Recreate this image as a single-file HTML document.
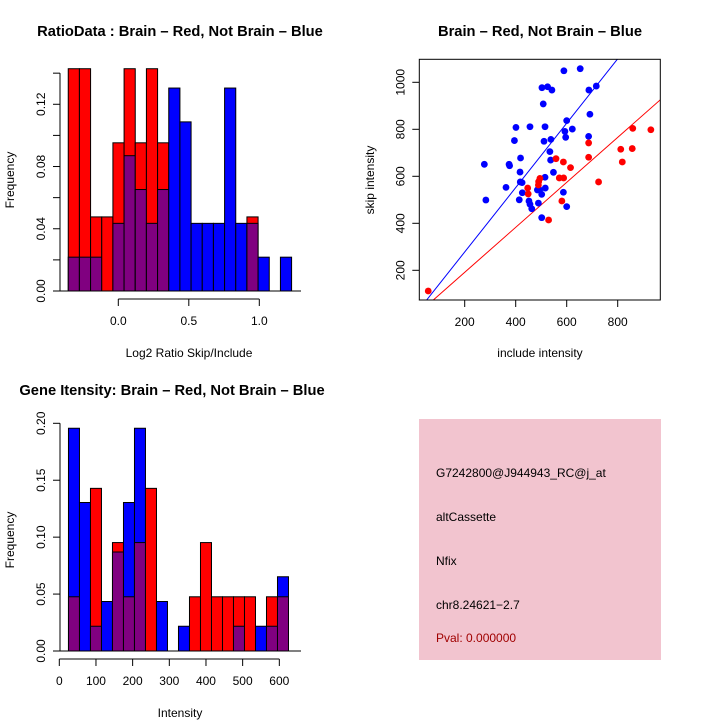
<!DOCTYPE html>
<html><head><meta charset="utf-8"><style>
body{margin:0;background:#fff}
svg text{font-family:"Liberation Sans",sans-serif;fill:#000}
</style></head><body>
<svg id="s" width="720" height="720" xmlns="http://www.w3.org/2000/svg">
<rect width="720" height="720" fill="#fff"/>
<text x="180" y="36" font-size="14.7" font-weight="bold" text-anchor="middle">RatioData : Brain – Red, Not Brain – Blue</text>
<text x="540" y="36" font-size="14.7" font-weight="bold" text-anchor="middle">Brain – Red, Not Brain – Blue</text>
<text x="172" y="395" font-size="14.7" font-weight="bold" text-anchor="middle">Gene Itensity: Brain – Red, Not Brain – Blue</text>
<text x="189" y="357" font-size="12" text-anchor="middle">Log2 Ratio Skip/Include</text>
<text x="14" y="180" font-size="12" text-anchor="middle" transform="rotate(-90 14 180)">Frequency</text>
<text x="540" y="357" font-size="12" text-anchor="middle">include intensity</text>
<text x="374" y="180" font-size="12" text-anchor="middle" transform="rotate(-90 374 180)">skip intensity</text>
<text x="180" y="717" font-size="12" text-anchor="middle">Intensity</text>
<text x="14" y="540" font-size="12" text-anchor="middle" transform="rotate(-90 14 540)">Frequency</text>
<g>
<rect x="419" y="419" width="242" height="241" fill="#f2c4cf"/>
<text x="436" y="477" font-size="12">G7242800@J944943_RC@j_at</text>
<text x="436" y="521" font-size="12">altCassette</text>
<text x="436" y="565" font-size="12">Nfix</text>
<text x="436" y="609" font-size="12">chr8.24621−2.7</text>
<text x="436" y="642" font-size="12" style="fill:#a00000">Pval: 0.000000</text>
</g>
</svg>
<script>
// Ratio histogram data (counts; red n=21, blue n=46)
const ratioStart = -0.355, ratioBinW = 0.0792;
const ratioRed = [3,3,1,1,2,3,2,3,2,0,0,0,0,0,0,0,1,0,0,0];
const ratioBlue = [1,1,1,0,2,4,3,2,3,6,5,2,2,2,6,2,2,1,0,1];
const ratioYTicks = [0,0.02,0.04,0.06,0.08,0.10,0.12,0.14];
const ratioYLabels = ["0.00","","0.04","","0.08","","0.12",""];
const ratioXTicks = [0,0.5,1.0];
const ratioXLabels = ["0.0","0.5","1.0"];
// Gene intensity histogram data
const geneStart = 25, geneBinW = 30;
const geneRed = [1,0,3,0,2,1,2,3,0,0,0,1,2,1,1,1,1,0,1,1];
const geneBlue = [9,6,1,2,4,6,9,0,2,0,1,0,0,0,0,1,0,1,1,3];
const geneYTicks = [0,0.05,0.10,0.15,0.20];
const geneYLabels = ["0.00","0.05","0.10","0.15","0.20"];
const geneXTicks = [0,100,200,300,400,500,600];
const geneXLabels = ["0","100","200","300","400","500","600"];
// Scatter data
const blueX = [277,283,362,374,376,395,401,417,418,419,414,426,425,456,452,456,463,485,489,502,503,508,511,515,515,516,502,525,542,538,534,537,548,589,587,593,596,600,600,622,653,687,686,691,716,494];
const blueY = [651,499,553,651,645,752,808,618,576,678,500,530,573,811,495,481,462,542,486,523,977,908,749,811,596,550,424,981,967,757,705,669,617,1049,532,791,766,837,471,801,1058,967,770,864,984,542];
const redX = [57,447,449,489,495,529,558,571,581,587,588,615,686,686,725,812,818,857,859,930,490];
const redY = [112,550,525,563,591,414,675,593,495,661,593,637,681,742,576,715,661,718,804,798,577];
const blueFit = [4,1.37];
const redFit = [0,0.957];
const scXTicks = [200,400,600,800];
const scYTicks = [200,400,600,800,1000];

const NS="http://www.w3.org/2000/svg", svg=document.getElementById('s');
function mk(t,a,p){const e=document.createElementNS(NS,t);for(const k in a)e.setAttribute(k,a[k]);(p||svg).appendChild(e);return e;}

function hist(opt){
  const g=mk('g',{});
  
  
  const xs=v=>opt.x0+(v-opt.xv0)*opt.xk, ys=v=>opt.y0-v*opt.yk;
  const nR=opt.red.reduce((a,b)=>a+b,0), nB=opt.blue.reduce((a,b)=>a+b,0);
  for(let i=0;i<opt.red.length;i++){
    const l=xs(opt.start+i*opt.bw), r=xs(opt.start+(i+1)*opt.bw);
    const fr=opt.red[i]/nR, fb=opt.blue[i]/nB;
    const hi=Math.max(fr,fb), lo=Math.min(fr,fb);
    if(hi>0){
      const b=mk('rect',{x:l,y:ys(hi),width:r-l,height:ys(0)-ys(hi),fill:fr>fb?'#ff0000':'#0000ff',stroke:'#000','stroke-width':1},g);
      
      
    }
    if(lo>0){
      const p=mk('rect',{x:l,y:ys(lo),width:r-l,height:ys(0)-ys(lo),fill:'#800080',stroke:'#000','stroke-width':1},g);
      
      
    }
  }
  const ya=mk('g',{},g);
  
  
  const yt=opt.yTicks;
  mk('line',{x1:opt.yAxisX,x2:opt.yAxisX,y1:ys(yt[0]),y2:ys(yt[yt.length-1]),stroke:'#000'},ya);
  yt.forEach((v,i)=>{mk('line',{x1:opt.yAxisX-7,x2:opt.yAxisX,y1:ys(v),y2:ys(v),stroke:'#000'},ya);
    if(opt.yLabels[i]){const t=mk('text',{x:0,y:0,'font-size':12,'text-anchor':'middle',transform:`translate(${opt.yAxisX-15},${ys(v)}) rotate(-90)`},ya);t.textContent=opt.yLabels[i];}});
  mk('line',{x1:opt.yAxisX,x2:opt.baseEnd,y1:ys(0),y2:ys(0),stroke:'#000'},g);
  const xa=mk('g',{},g);
  
  
  const xt=opt.xTicks;
  mk('line',{x1:xs(xt[0]),x2:xs(xt[xt.length-1]),y1:opt.xAxisY,y2:opt.xAxisY,stroke:'#000'},xa);
  xt.forEach((v,i)=>{mk('line',{x1:xs(v),x2:xs(v),y1:opt.xAxisY,y2:opt.xAxisY+7,stroke:'#000'},xa);
    const t=mk('text',{x:xs(v),y:opt.xAxisY+26,'font-size':12,'text-anchor':'middle'},xa);t.textContent=opt.xLabels[i];});
}
hist({name:'ratio-histogram',red:ratioRed,blue:ratioBlue,start:ratioStart,bw:ratioBinW,x0:118.3,xv0:0,xk:141,y0:291,yk:1556,
  yAxisX:60,baseEnd:301,xAxisY:299,yTicks:ratioYTicks,yLabels:ratioYLabels,xTicks:ratioXTicks,xLabels:ratioXLabels});
hist({name:'gene-histogram',red:geneRed,blue:geneBlue,start:geneStart,bw:geneBinW,x0:59.3,xv0:0,xk:0.3667,y0:651,yk:1138.5,
  yAxisX:60,baseEnd:301,xAxisY:659,yTicks:geneYTicks,yLabels:geneYLabels,xTicks:geneXTicks,xLabels:geneXLabels});

(function(){
  const L=419.3,R=660.3,T=59.3,B=300;
  const xs=v=>413.7+v*0.255, ys=v=>317.3-v*0.235;
  const g=mk('g',{});
  
  
  const cp=mk('clipPath',{id:'cp'},g);
  mk('rect',{x:L,y:T,width:R-L,height:B-T},cp);
  const pg=mk('g',{'clip-path':'url(#cp)'},g);
  function fit(f,c,n){const x1=0,x2=1000;const l=mk('line',{x1:xs(x1),x2:xs(x2),y1:ys(f[0]+f[1]*x1),y2:ys(f[0]+f[1]*x2),stroke:c,'stroke-width':1},pg);
    
    }
  fit(blueFit,'#0000ff','blue-fit-line'); fit(redFit,'#ff0000','red-fit-line');
  blueX.forEach((v,i)=>{const c=mk('circle',{cx:xs(v),cy:ys(blueY[i]),r:3.4,fill:'#0000ff'},pg);
    
    });
  redX.forEach((v,i)=>{const c=mk('circle',{cx:xs(v),cy:ys(redY[i]),r:3.4,fill:'#ff0000'},pg);
    
    });
  mk('rect',{x:L,y:T,width:R-L,height:B-T,fill:'none',stroke:'#000'},g);
  const xa=mk('g',{},g);
  
  
  scXTicks.forEach(v=>{mk('line',{x1:xs(v),x2:xs(v),y1:B,y2:B+7,stroke:'#000'},xa);
    const t=mk('text',{x:xs(v),y:B+26,'font-size':12,'text-anchor':'middle'},xa);t.textContent=v;});
  const ya=mk('g',{},g);
  
  
  scYTicks.forEach(v=>{mk('line',{x1:L-7,x2:L,y1:ys(v),y2:ys(v),stroke:'#000'},ya);
    const t=mk('text',{x:0,y:0,'font-size':12,'text-anchor':'middle',transform:`translate(${L-15},${ys(v)}) rotate(-90)`},ya);t.textContent=v;});
})();
</script>
</body></html>
